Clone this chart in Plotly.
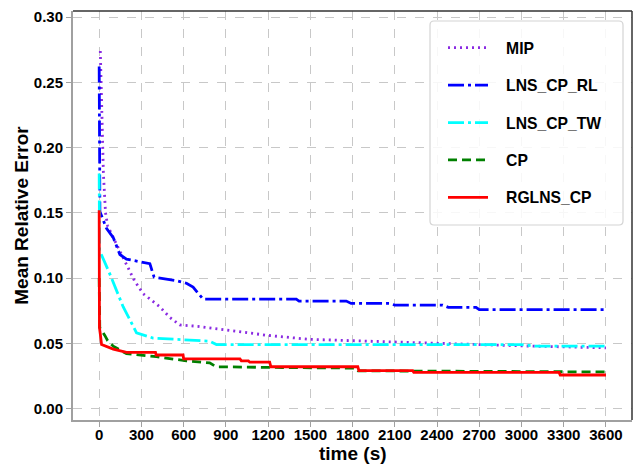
import plotly.graph_objects as go

# ---- data ----
mip_t = [8, 20, 30, 45, 60, 100, 150, 194, 250, 312, 430, 500, 572, 700, 900, 1069, 1200, 1494, 1800, 2393, 3000, 3600]
mip_v = [0.274, 0.22, 0.18, 0.15, 0.14, 0.131, 0.12, 0.111, 0.098, 0.088, 0.078, 0.07, 0.064, 0.063, 0.060, 0.058, 0.056, 0.053, 0.052, 0.0498, 0.048, 0.0465]

rl_t = [0, 5, 52, 100, 147, 194, 360, 390, 549, 620, 667, 738, 1400, 1420, 1755, 1790, 2062, 2100, 2440, 2480, 2677, 2700, 3600]
rl_v = [0.262, 0.151, 0.138, 0.131, 0.118, 0.1145, 0.111, 0.1007, 0.098, 0.096, 0.093, 0.0838, 0.0838, 0.0823, 0.0823, 0.0805, 0.0805, 0.0793, 0.0793, 0.0775, 0.0775, 0.0757, 0.0757]

tw_t = [0, 3, 76, 170, 218, 265, 383, 785, 833, 3000, 3100, 3600]
tw_v = [0.18, 0.121, 0.103, 0.078, 0.068, 0.058, 0.054, 0.0516, 0.049, 0.049, 0.0478, 0.0478]

cp_t = [0, 4, 40, 60, 100, 194, 407, 620, 785, 830, 1300, 1825, 1840, 3600]
cp_v = [0.10, 0.062, 0.056, 0.052, 0.0478, 0.0420, 0.0397, 0.0365, 0.035, 0.032, 0.0314, 0.031, 0.0289, 0.028]

rg_t = [0, 2, 8, 17, 100, 194, 400, 405, 596, 600, 1000, 1010, 1060, 1070, 1211, 1220, 1837, 1845, 2227, 2235, 3267, 3275, 3600]
rg_v = [0.152, 0.062, 0.057, 0.049, 0.0455, 0.043, 0.043, 0.041, 0.041, 0.038, 0.038, 0.0365, 0.0365, 0.0355, 0.0355, 0.032, 0.032, 0.029, 0.029, 0.0277, 0.0277, 0.0257, 0.0257]

x_ticks = [0, 300, 600, 900, 1200, 1500, 1800, 2100, 2400, 2700, 3000, 3300, 3600]
y_ticks = [0.00, 0.05, 0.10, 0.15, 0.20, 0.25, 0.30]

series = [
    ("MIP", mip_t, mip_v, "#8A2BE2", "2px,4px"),
    ("LNS_CP_RL", rl_t, rl_v, "#0000FF", "16px,4px,3px,4px"),
    ("LNS_CP_TW", tw_t, tw_v, "#00FFFF", "16px,4px,3px,4px"),
    ("CP", cp_t, cp_v, "#008000", "9px,5px"),
    ("RGLNS_CP", rg_t, rg_v, "#FF0000", "solid"),
]

FONT = "Liberation Sans"
PAD = "\u00a0\u00a0\u00a0"
fig = go.Figure()
for i, (name, t, v, c, d) in enumerate(series):
    fig.add_trace(go.Scatter(x=t, y=v, mode="lines", name=PAD + name, legendgroup=str(i),
                             line=dict(color=c, width=2.8, dash=d)))

axis_common = dict(showgrid=True, gridcolor="#c8c8c8", griddash="dash", gridwidth=1,
                   zeroline=False, showline=True, linecolor="#a0a0a0", linewidth=2,
                   ticks="outside", ticklen=5, tickcolor="#a0a0a0", automargin=False,
                   tickfont=dict(family=FONT, size=15, color="black", weight="bold"))

L, R, T, B = 73, 4, 11, 44
pw, ph = 636 - L - R, 464 - T - B
def px(xp):
    return (xp - L) / pw
def py(yp):
    return 1 - (yp - T) / ph

fig.update_layout(
    width=636, height=464,
    margin=dict(l=L, r=R, t=T, b=B),
    paper_bgcolor="white", plot_bgcolor="white",
    xaxis=dict(range=[-186, 3785], tickvals=x_ticks, ticktext=[str(x) for x in x_ticks],
               ticklabelstandoff=-5, **axis_common),
    yaxis=dict(range=[-0.0088, 0.3046], tickvals=y_ticks, ticktext=[f"{y:.2f}" for y in y_ticks],
               title=dict(text="Mean Relative Error", font=dict(family=FONT, size=19, color="black", weight="bold"), standoff=0),
               **axis_common),
    legend=dict(x=px(443), y=py(31), xanchor="left", yanchor="top",
                bgcolor="rgba(0,0,0,0)", borderwidth=0,
                font=dict(family=FONT, size=15.7, color="black", weight="bold"),
                tracegroupgap=14, traceorder="grouped", itemwidth=40),
    showlegend=True,
)
fig.add_annotation(text="time (s)", xref="paper", yref="paper", x=0.5, y=py(453),
                   xanchor="center", yanchor="middle", showarrow=False,
                   font=dict(family=FONT, size=19, color="black", weight="bold"))
# legend frame (rounded)
x0, x1, y0, y1, r = 430, 623, 21, 225, 4
path = (f"M {px(x0 + r)} {py(y0)} L {px(x1 - r)} {py(y0)} Q {px(x1)} {py(y0)} {px(x1)} {py(y0 + r)} "
        f"L {px(x1)} {py(y1 - r)} Q {px(x1)} {py(y1)} {px(x1 - r)} {py(y1)} "
        f"L {px(x0 + r)} {py(y1)} Q {px(x0)} {py(y1)} {px(x0)} {py(y1 - r)} "
        f"L {px(x0)} {py(y0 + r)} Q {px(x0)} {py(y0)} {px(x0 + r)} {py(y0)} Z")
fig.add_shape(type="path", xref="paper", yref="paper", path=path,
              fillcolor="rgba(255,255,255,0.85)", line=dict(color="#d4d4d4", width=1.2), layer="above")
# dark top/right frame
fig.add_shape(type="line", xref="paper", yref="paper", x0=0, x1=1, y0=1, y1=1, line=dict(color="#333333", width=1.5))
fig.add_shape(type="line", xref="paper", yref="paper", x0=1, x1=1, y0=0, y1=1, line=dict(color="#333333", width=1.5))

fig.write_html("out.html", config={"displayModeBar": False},
               post_script="document.body.style.margin='0px';document.body.style.overflow='hidden';")
